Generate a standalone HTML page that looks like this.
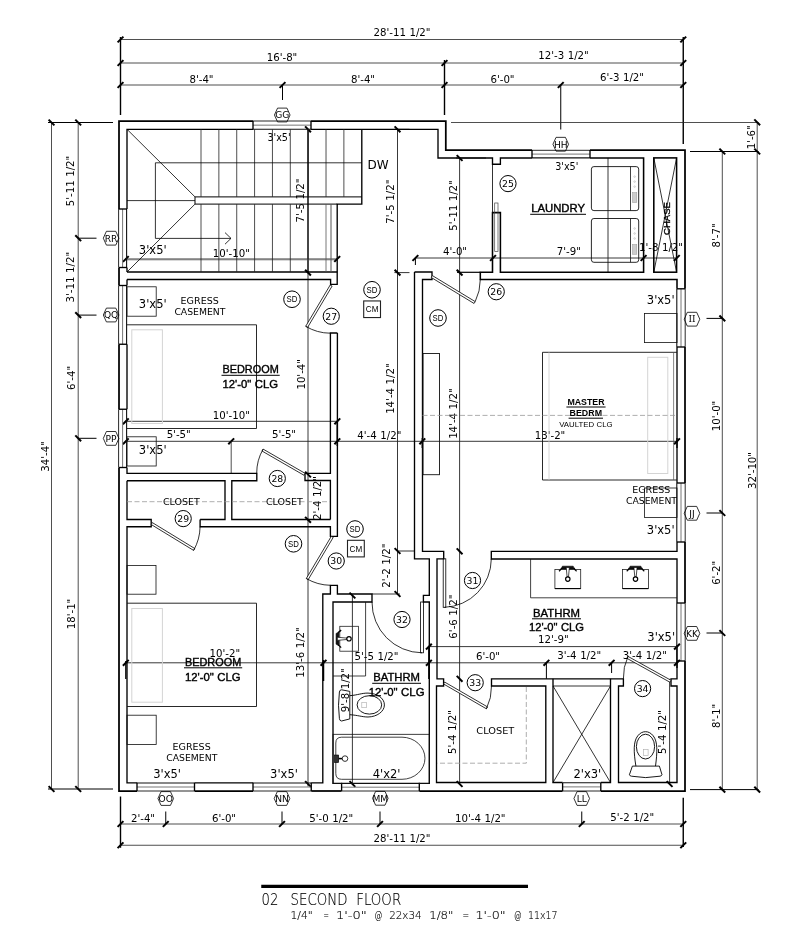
<!DOCTYPE html>
<html><head><meta charset="utf-8"><title>02 Second Floor</title>
<style>html,body{margin:0;padding:0;background:#fff}svg{display:block}text{white-space:pre;word-spacing:0.3px}svg{filter:grayscale(1)}</style></head>
<body><svg width="804" height="952" viewBox="0 0 804 952">
<rect width="804" height="952" fill="#fff"/>
<line x1="120.5" y1="39.5" x2="683.25" y2="39.5" stroke="#222" stroke-width="0.8" />
<line x1="120.5" y1="63" x2="683.25" y2="63" stroke="#222" stroke-width="0.8" />
<line x1="120.5" y1="85" x2="683.25" y2="85" stroke="#222" stroke-width="0.8" />
<line x1="117.6" y1="42.4" x2="123.4" y2="36.6" stroke="#000" stroke-width="2.0" />
<line x1="680.35" y1="42.4" x2="686.15" y2="36.6" stroke="#000" stroke-width="2.0" />
<line x1="117.6" y1="65.9" x2="123.4" y2="60.1" stroke="#000" stroke-width="2.0" />
<line x1="441.6" y1="65.9" x2="447.4" y2="60.1" stroke="#000" stroke-width="2.0" />
<line x1="680.35" y1="65.9" x2="686.15" y2="60.1" stroke="#000" stroke-width="2.0" />
<line x1="117.6" y1="87.9" x2="123.4" y2="82.1" stroke="#000" stroke-width="2.0" />
<line x1="279.6" y1="87.9" x2="285.4" y2="82.1" stroke="#000" stroke-width="2.0" />
<line x1="441.6" y1="87.9" x2="447.4" y2="82.1" stroke="#000" stroke-width="2.0" />
<line x1="557.85" y1="87.9" x2="563.65" y2="82.1" stroke="#000" stroke-width="2.0" />
<line x1="680.35" y1="87.9" x2="686.15" y2="82.1" stroke="#000" stroke-width="2.0" />
<line x1="120.5" y1="37" x2="120.5" y2="115" stroke="#000" stroke-width="1.4" />
<line x1="444.5" y1="60" x2="444.5" y2="115" stroke="#000" stroke-width="1.4" />
<line x1="683.25" y1="37" x2="683.25" y2="144" stroke="#000" stroke-width="1.4" />
<line x1="282.5" y1="85" x2="282.5" y2="100" stroke="#000" stroke-width="1.0" />
<line x1="560.75" y1="85" x2="560.75" y2="129.5" stroke="#000" stroke-width="1.0" />
<line x1="451" y1="122.5" x2="758.6" y2="122.5" stroke="#222" stroke-width="0.8" />
<text x="402" y="36" font-family="DejaVu Sans, Liberation Sans, sans-serif" font-size="10.2" text-anchor="middle" fill="#000" >28'-11 1/2&quot;</text>
<text x="282" y="60.75" font-family="DejaVu Sans, Liberation Sans, sans-serif" font-size="10.2" text-anchor="middle" fill="#000" >16'-8&quot;</text>
<text x="563.5" y="59" font-family="DejaVu Sans, Liberation Sans, sans-serif" font-size="10.2" text-anchor="middle" fill="#000" >12'-3 1/2&quot;</text>
<text x="201.5" y="82.5" font-family="DejaVu Sans, Liberation Sans, sans-serif" font-size="10.2" text-anchor="middle" fill="#000" >8'-4&quot;</text>
<text x="363" y="82.5" font-family="DejaVu Sans, Liberation Sans, sans-serif" font-size="10.2" text-anchor="middle" fill="#000" >8'-4&quot;</text>
<text x="502.5" y="82.5" font-family="DejaVu Sans, Liberation Sans, sans-serif" font-size="10.2" text-anchor="middle" fill="#000" >6'-0&quot;</text>
<text x="622" y="80.7" font-family="DejaVu Sans, Liberation Sans, sans-serif" font-size="10.2" text-anchor="middle" fill="#000" >6'-3 1/2&quot;</text>
<line x1="51.5" y1="122.5" x2="51.5" y2="789" stroke="#222" stroke-width="0.8" />
<line x1="78.2" y1="122.5" x2="78.2" y2="789" stroke="#222" stroke-width="0.8" />
<line x1="48" y1="122.5" x2="113" y2="122.5" stroke="#000" stroke-width="1.0" />
<line x1="48" y1="789" x2="113" y2="789" stroke="#000" stroke-width="1.0" />
<line x1="48.6" y1="119.6" x2="54.4" y2="125.4" stroke="#000" stroke-width="2.0" />
<line x1="48.6" y1="786.1" x2="54.4" y2="791.9" stroke="#000" stroke-width="2.0" />
<line x1="75.3" y1="119.6" x2="81.1" y2="125.4" stroke="#000" stroke-width="2.0" />
<line x1="75.3" y1="235.3" x2="81.1" y2="241.1" stroke="#000" stroke-width="2.0" />
<line x1="75.3" y1="312.2" x2="81.1" y2="318" stroke="#000" stroke-width="2.0" />
<line x1="75.3" y1="435.4" x2="81.1" y2="441.2" stroke="#000" stroke-width="2.0" />
<line x1="75.3" y1="786.1" x2="81.1" y2="791.9" stroke="#000" stroke-width="2.0" />
<line x1="78.2" y1="238.2" x2="96.5" y2="238.2" stroke="#000" stroke-width="1.0" />
<line x1="78.2" y1="315.1" x2="96.5" y2="315.1" stroke="#000" stroke-width="1.0" />
<line x1="78.2" y1="438.3" x2="96.5" y2="438.3" stroke="#000" stroke-width="1.0" />
<text transform="translate(48.5,456.5) rotate(-90)" font-family="DejaVu Sans, Liberation Sans, sans-serif" font-size="10.2" text-anchor="middle" fill="#000" >34'-4&quot;</text>
<text transform="translate(74.1,181) rotate(-90)" font-family="DejaVu Sans, Liberation Sans, sans-serif" font-size="10.2" text-anchor="middle" fill="#000" >5'-11 1/2&quot;</text>
<text transform="translate(74.1,277.2) rotate(-90)" font-family="DejaVu Sans, Liberation Sans, sans-serif" font-size="10.2" text-anchor="middle" fill="#000" >3'-11 1/2&quot;</text>
<text transform="translate(74.9,378) rotate(-90)" font-family="DejaVu Sans, Liberation Sans, sans-serif" font-size="10.2" text-anchor="middle" fill="#000" >6'-4&quot;</text>
<text transform="translate(75.2,614) rotate(-90)" font-family="DejaVu Sans, Liberation Sans, sans-serif" font-size="10.2" text-anchor="middle" fill="#000" >18'-1&quot;</text>
<line x1="722.3" y1="151.5" x2="722.3" y2="789.6" stroke="#222" stroke-width="0.8" />
<line x1="757.2" y1="122.3" x2="757.2" y2="789.6" stroke="#222" stroke-width="0.8" />
<line x1="690" y1="151.5" x2="758.6" y2="151.5" stroke="#000" stroke-width="1.0" />
<line x1="690" y1="789.6" x2="758.6" y2="789.6" stroke="#000" stroke-width="1.0" />
<line x1="719.4" y1="148.6" x2="725.2" y2="154.4" stroke="#000" stroke-width="2.0" />
<line x1="719.4" y1="315.5" x2="725.2" y2="321.3" stroke="#000" stroke-width="2.0" />
<line x1="719.4" y1="510.1" x2="725.2" y2="515.9" stroke="#000" stroke-width="2.0" />
<line x1="719.4" y1="630.1" x2="725.2" y2="635.9" stroke="#000" stroke-width="2.0" />
<line x1="719.4" y1="786.7" x2="725.2" y2="792.5" stroke="#000" stroke-width="2.0" />
<line x1="754.3" y1="119.4" x2="760.1" y2="125.2" stroke="#000" stroke-width="2.0" />
<line x1="754.3" y1="148.6" x2="760.1" y2="154.4" stroke="#000" stroke-width="2.0" />
<line x1="754.3" y1="786.7" x2="760.1" y2="792.5" stroke="#000" stroke-width="2.0" />
<line x1="706.5" y1="318.4" x2="722.3" y2="318.4" stroke="#000" stroke-width="1.0" />
<line x1="706.5" y1="513" x2="722.3" y2="513" stroke="#000" stroke-width="1.0" />
<line x1="706.5" y1="633" x2="722.3" y2="633" stroke="#000" stroke-width="1.0" />
<text transform="translate(755.2,137.3) rotate(-90)" font-family="DejaVu Sans, Liberation Sans, sans-serif" font-size="10.2" text-anchor="middle" fill="#000" >1'-6&quot;</text>
<text transform="translate(720,235.4) rotate(-90)" font-family="DejaVu Sans, Liberation Sans, sans-serif" font-size="10.2" text-anchor="middle" fill="#000" >8'-7&quot;</text>
<text transform="translate(719.6,416) rotate(-90)" font-family="DejaVu Sans, Liberation Sans, sans-serif" font-size="10.2" text-anchor="middle" fill="#000" >10'-0&quot;</text>
<text transform="translate(719.6,572.8) rotate(-90)" font-family="DejaVu Sans, Liberation Sans, sans-serif" font-size="10.2" text-anchor="middle" fill="#000" >6'-2&quot;</text>
<text transform="translate(719.6,716) rotate(-90)" font-family="DejaVu Sans, Liberation Sans, sans-serif" font-size="10.2" text-anchor="middle" fill="#000" >8'-1&quot;</text>
<text transform="translate(755.6,470.5) rotate(-90)" font-family="DejaVu Sans, Liberation Sans, sans-serif" font-size="10.2" text-anchor="middle" fill="#000" >32'-10&quot;</text>
<line x1="120.5" y1="824" x2="683.25" y2="824" stroke="#222" stroke-width="0.8" />
<line x1="120.5" y1="845.25" x2="683.25" y2="845.25" stroke="#222" stroke-width="0.8" />
<line x1="117.6" y1="826.9" x2="123.4" y2="821.1" stroke="#000" stroke-width="2.0" />
<line x1="162.85" y1="826.9" x2="168.65" y2="821.1" stroke="#000" stroke-width="2.0" />
<line x1="279.1" y1="826.9" x2="284.9" y2="821.1" stroke="#000" stroke-width="2.0" />
<line x1="377.1" y1="826.9" x2="382.9" y2="821.1" stroke="#000" stroke-width="2.0" />
<line x1="578.85" y1="826.9" x2="584.65" y2="821.1" stroke="#000" stroke-width="2.0" />
<line x1="680.35" y1="826.9" x2="686.15" y2="821.1" stroke="#000" stroke-width="2.0" />
<line x1="117.6" y1="848.15" x2="123.4" y2="842.35" stroke="#000" stroke-width="2.0" />
<line x1="680.35" y1="848.15" x2="686.15" y2="842.35" stroke="#000" stroke-width="2.0" />
<line x1="120.5" y1="796.5" x2="120.5" y2="847.75" stroke="#000" stroke-width="1.4" />
<line x1="683.25" y1="797.75" x2="683.25" y2="847" stroke="#000" stroke-width="1.4" />
<line x1="165.75" y1="811.5" x2="165.75" y2="824" stroke="#000" stroke-width="1.0" />
<line x1="282" y1="811.5" x2="282" y2="824" stroke="#000" stroke-width="1.0" />
<line x1="380" y1="811.5" x2="380" y2="824" stroke="#000" stroke-width="1.0" />
<line x1="581.75" y1="811.5" x2="581.75" y2="824" stroke="#000" stroke-width="1.0" />
<text x="143" y="821.5" font-family="DejaVu Sans, Liberation Sans, sans-serif" font-size="10.2" text-anchor="middle" fill="#000" >2'-4&quot;</text>
<text x="224" y="821.5" font-family="DejaVu Sans, Liberation Sans, sans-serif" font-size="10.2" text-anchor="middle" fill="#000" >6'-0&quot;</text>
<text x="331.25" y="821.5" font-family="DejaVu Sans, Liberation Sans, sans-serif" font-size="10.2" text-anchor="middle" fill="#000" >5'-0 1/2&quot;</text>
<text x="480.3" y="821.5" font-family="DejaVu Sans, Liberation Sans, sans-serif" font-size="10.2" text-anchor="middle" fill="#000" >10'-4 1/2&quot;</text>
<text x="632.25" y="821" font-family="DejaVu Sans, Liberation Sans, sans-serif" font-size="10.2" text-anchor="middle" fill="#000" >5'-2 1/2&quot;</text>
<text x="402" y="841.5" font-family="DejaVu Sans, Liberation Sans, sans-serif" font-size="10.2" text-anchor="middle" fill="#000" >28'-11 1/2&quot;</text>
<line x1="308" y1="129.3" x2="308" y2="786.5" stroke="#222" stroke-width="0.9" />
<line x1="308" y1="129.3" x2="308" y2="273" stroke="#000" stroke-width="1.1" />
<line x1="305.1" y1="126.4" x2="310.9" y2="132.2" stroke="#000" stroke-width="2.0" />
<line x1="305.1" y1="269.7" x2="310.9" y2="275.5" stroke="#000" stroke-width="2.0" />
<line x1="305.1" y1="471.6" x2="310.9" y2="477.4" stroke="#000" stroke-width="2.0" />
<line x1="305.1" y1="516.9" x2="310.9" y2="522.7" stroke="#000" stroke-width="2.0" />
<line x1="305.1" y1="781.1" x2="310.9" y2="786.9" stroke="#000" stroke-width="2.0" />
<line x1="397.5" y1="129.3" x2="397.5" y2="594" stroke="#222" stroke-width="0.9" />
<line x1="394.6" y1="126.4" x2="400.4" y2="132.2" stroke="#000" stroke-width="2.0" />
<line x1="394.6" y1="269.7" x2="400.4" y2="275.5" stroke="#000" stroke-width="2.0" />
<line x1="394.6" y1="548.1" x2="400.4" y2="553.9" stroke="#000" stroke-width="2.0" />
<line x1="394.6" y1="591.1" x2="400.4" y2="596.9" stroke="#000" stroke-width="2.0" />
<line x1="394.4" y1="129.3" x2="409.5" y2="129.3" stroke="#000" stroke-width="0.8" />
<line x1="394.4" y1="272.6" x2="409.5" y2="272.6" stroke="#000" stroke-width="0.8" />
<line x1="397.5" y1="551" x2="414.5" y2="551" stroke="#000" stroke-width="0.8" />
<line x1="372" y1="594" x2="400" y2="594" stroke="#000" stroke-width="0.8" />
<line x1="459.6" y1="158" x2="459.6" y2="784" stroke="#222" stroke-width="0.9" />
<line x1="456.7" y1="155.1" x2="462.5" y2="160.9" stroke="#000" stroke-width="2.0" />
<line x1="456.7" y1="269.7" x2="462.5" y2="275.5" stroke="#000" stroke-width="2.0" />
<line x1="456.7" y1="548.4" x2="462.5" y2="554.2" stroke="#000" stroke-width="2.0" />
<line x1="456.7" y1="675.9" x2="462.5" y2="681.7" stroke="#000" stroke-width="2.0" />
<line x1="456.7" y1="781.1" x2="462.5" y2="786.9" stroke="#000" stroke-width="2.0" />
<line x1="456" y1="158" x2="486" y2="158" stroke="#000" stroke-width="0.8" />
<line x1="352.4" y1="595.5" x2="352.4" y2="784.5" stroke="#222" stroke-width="0.9" />
<line x1="349.5" y1="592.6" x2="355.3" y2="598.4" stroke="#000" stroke-width="2.0" />
<line x1="349.5" y1="781.1" x2="355.3" y2="786.9" stroke="#000" stroke-width="2.0" />
<line x1="669.6" y1="678.8" x2="669.6" y2="784" stroke="#222" stroke-width="0.9" />
<line x1="666.7" y1="781.1" x2="672.5" y2="786.9" stroke="#000" stroke-width="2.0" />
<line x1="608" y1="157.9" x2="608" y2="272.2" stroke="#222" stroke-width="0.9" />
<line x1="125.5" y1="259" x2="337.2" y2="259" stroke="#222" stroke-width="0.9" />
<line x1="125.5" y1="259.9" x2="337.2" y2="259.9" stroke="#555" stroke-width="0.6" />
<line x1="122.9" y1="261.9" x2="128.7" y2="256.1" stroke="#000" stroke-width="2.0" />
<line x1="334.3" y1="261.9" x2="340.1" y2="256.1" stroke="#000" stroke-width="2.0" />
<line x1="415.4" y1="258" x2="677" y2="258" stroke="#222" stroke-width="0.9" />
<line x1="412.5" y1="260.9" x2="418.3" y2="255.1" stroke="#000" stroke-width="2.0" />
<line x1="490.1" y1="260.9" x2="495.9" y2="255.1" stroke="#000" stroke-width="2.0" />
<line x1="640.7" y1="260.9" x2="646.5" y2="255.1" stroke="#000" stroke-width="2.0" />
<line x1="673.9" y1="260.9" x2="679.7" y2="255.1" stroke="#000" stroke-width="2.0" />
<line x1="415.4" y1="258" x2="415.4" y2="265" stroke="#000" stroke-width="1.0" />
<line x1="125.5" y1="421.3" x2="337.3" y2="421.3" stroke="#222" stroke-width="0.9" />
<line x1="122.9" y1="424.2" x2="128.7" y2="418.4" stroke="#000" stroke-width="2.0" />
<line x1="334.4" y1="424.2" x2="340.2" y2="418.4" stroke="#000" stroke-width="2.0" />
<line x1="125.5" y1="441.3" x2="677" y2="441.3" stroke="#222" stroke-width="0.9" />
<line x1="122.9" y1="444.2" x2="128.7" y2="438.4" stroke="#000" stroke-width="2.0" />
<line x1="228.3" y1="444.2" x2="234.1" y2="438.4" stroke="#000" stroke-width="2.0" />
<line x1="334.4" y1="444.2" x2="340.2" y2="438.4" stroke="#000" stroke-width="2.0" />
<line x1="419.4" y1="444.2" x2="425.2" y2="438.4" stroke="#000" stroke-width="2.0" />
<line x1="674.1" y1="444.2" x2="679.9" y2="438.4" stroke="#000" stroke-width="2.0" />
<line x1="231.2" y1="441.2" x2="231.2" y2="473.3" stroke="#222" stroke-width="0.8" />
<line x1="337.3" y1="421" x2="337.3" y2="446" stroke="#000" stroke-width="1.5" />
<line x1="422.3" y1="438" x2="422.3" y2="448" stroke="#000" stroke-width="1.4" />
<line x1="677" y1="438" x2="677" y2="448" stroke="#000" stroke-width="1.4" />
<line x1="428.9" y1="646.6" x2="677" y2="646.6" stroke="#222" stroke-width="0.9" />
<line x1="426" y1="649.5" x2="431.8" y2="643.7" stroke="#000" stroke-width="2.0" />
<line x1="674.1" y1="649.5" x2="679.9" y2="643.7" stroke="#000" stroke-width="2.0" />
<line x1="125.5" y1="662.8" x2="677" y2="662.8" stroke="#222" stroke-width="0.9" />
<line x1="122.9" y1="665.7" x2="128.7" y2="659.9" stroke="#000" stroke-width="2.0" />
<line x1="320.6" y1="665.7" x2="326.4" y2="659.9" stroke="#000" stroke-width="2.0" />
<line x1="426" y1="665.7" x2="431.8" y2="659.9" stroke="#000" stroke-width="2.0" />
<line x1="543.5" y1="665.7" x2="549.3" y2="659.9" stroke="#000" stroke-width="2.0" />
<line x1="608.7" y1="665.7" x2="614.5" y2="659.9" stroke="#000" stroke-width="2.0" />
<line x1="674.1" y1="665.7" x2="679.9" y2="659.9" stroke="#000" stroke-width="2.0" />
<line x1="323.5" y1="660" x2="323.5" y2="681" stroke="#000" stroke-width="1.5" />
<line x1="428.9" y1="646" x2="428.9" y2="679" stroke="#000" stroke-width="1.5" />
<line x1="546.4" y1="662.8" x2="546.4" y2="678.8" stroke="#000" stroke-width="1.0" />
<line x1="611.6" y1="662.8" x2="611.6" y2="673" stroke="#000" stroke-width="1.0" />
<line x1="677" y1="645" x2="677" y2="668" stroke="#000" stroke-width="1.4" />
<line x1="125.8" y1="661" x2="125.8" y2="679" stroke="#000" stroke-width="1.3" />
<text transform="translate(304.2,200.5) rotate(-90)" font-family="DejaVu Sans, Liberation Sans, sans-serif" font-size="10.2" text-anchor="middle" fill="#000" >7'-5 1/2&quot;</text>
<text transform="translate(394.2,201.7) rotate(-90)" font-family="DejaVu Sans, Liberation Sans, sans-serif" font-size="10.2" text-anchor="middle" fill="#000" >7'-5 1/2&quot;</text>
<text transform="translate(456.5,205.5) rotate(-90)" font-family="DejaVu Sans, Liberation Sans, sans-serif" font-size="10.2" text-anchor="middle" fill="#000" >5'-11 1/2&quot;</text>
<text x="231.3" y="256.9" font-family="DejaVu Sans, Liberation Sans, sans-serif" font-size="10.2" text-anchor="middle" fill="#000" >10'-10&quot;</text>
<text x="455" y="255.3" font-family="DejaVu Sans, Liberation Sans, sans-serif" font-size="10.2" text-anchor="middle" fill="#000" >4'-0&quot;</text>
<text x="568.8" y="255.3" font-family="DejaVu Sans, Liberation Sans, sans-serif" font-size="10.2" text-anchor="middle" fill="#000" >7'-9&quot;</text>
<text x="661" y="250.7" font-family="DejaVu Sans, Liberation Sans, sans-serif" font-size="10.2" text-anchor="middle" fill="#000" >1'-8 1/2&quot;</text>
<text transform="translate(305,374.3) rotate(-90)" font-family="DejaVu Sans, Liberation Sans, sans-serif" font-size="10.2" text-anchor="middle" fill="#000" >10'-4&quot;</text>
<text x="231.3" y="419.3" font-family="DejaVu Sans, Liberation Sans, sans-serif" font-size="10.2" text-anchor="middle" fill="#000" >10'-10&quot;</text>
<text transform="translate(394.2,388.6) rotate(-90)" font-family="DejaVu Sans, Liberation Sans, sans-serif" font-size="10.2" text-anchor="middle" fill="#000" >14'-4 1/2&quot;</text>
<text transform="translate(456.5,413.6) rotate(-90)" font-family="DejaVu Sans, Liberation Sans, sans-serif" font-size="10.2" text-anchor="middle" fill="#000" >14'-4 1/2&quot;</text>
<text x="178.7" y="438.3" font-family="DejaVu Sans, Liberation Sans, sans-serif" font-size="10.2" text-anchor="middle" fill="#000" >5'-5&quot;</text>
<text x="284" y="438.3" font-family="DejaVu Sans, Liberation Sans, sans-serif" font-size="10.2" text-anchor="middle" fill="#000" >5'-5&quot;</text>
<text x="379.3" y="438.5" font-family="DejaVu Sans, Liberation Sans, sans-serif" font-size="10.2" text-anchor="middle" fill="#000" >4'-4 1/2&quot;</text>
<text x="550" y="438.5" font-family="DejaVu Sans, Liberation Sans, sans-serif" font-size="10.2" text-anchor="middle" fill="#000" >13'-2&quot;</text>
<text transform="translate(321.2,498) rotate(-90)" font-family="DejaVu Sans, Liberation Sans, sans-serif" font-size="10.2" text-anchor="middle" fill="#000" >2'-4 1/2&quot;</text>
<text transform="translate(390,565.6) rotate(-90)" font-family="DejaVu Sans, Liberation Sans, sans-serif" font-size="10.2" text-anchor="middle" fill="#000" >2'-2 1/2&quot;</text>
<text transform="translate(456.5,616.6) rotate(-90)" font-family="DejaVu Sans, Liberation Sans, sans-serif" font-size="10.2" text-anchor="middle" fill="#000" >6'-6 1/2&quot;</text>
<text transform="translate(304,652.5) rotate(-90)" font-family="DejaVu Sans, Liberation Sans, sans-serif" font-size="10.2" text-anchor="middle" fill="#000" >13'-6 1/2&quot;</text>
<text x="224.8" y="656.5" font-family="DejaVu Sans, Liberation Sans, sans-serif" font-size="10.2" text-anchor="middle" fill="#000" >10'-2&quot;</text>
<text x="376.5" y="659.6" font-family="DejaVu Sans, Liberation Sans, sans-serif" font-size="10.2" text-anchor="middle" fill="#000" >5'-5 1/2&quot;</text>
<text x="488" y="659.6" font-family="DejaVu Sans, Liberation Sans, sans-serif" font-size="10.2" text-anchor="middle" fill="#000" >6'-0&quot;</text>
<text x="579.2" y="659.4" font-family="DejaVu Sans, Liberation Sans, sans-serif" font-size="10.2" text-anchor="middle" fill="#000" >3'-4 1/2&quot;</text>
<text x="644.8" y="659.4" font-family="DejaVu Sans, Liberation Sans, sans-serif" font-size="10.2" text-anchor="middle" fill="#000" >3'-4 1/2&quot;</text>
<text x="553.4" y="643.1" font-family="DejaVu Sans, Liberation Sans, sans-serif" font-size="10.2" text-anchor="middle" fill="#000" >12'-9&quot;</text>
<text transform="translate(348.7,690.3) rotate(-90)" font-family="DejaVu Sans, Liberation Sans, sans-serif" font-size="10.2" text-anchor="middle" fill="#000" >9'-8 1/2&quot;</text>
<text transform="translate(456.2,732) rotate(-90)" font-family="DejaVu Sans, Liberation Sans, sans-serif" font-size="10.2" text-anchor="middle" fill="#000" >5'-4 1/2&quot;</text>
<text transform="translate(666,732) rotate(-90)" font-family="DejaVu Sans, Liberation Sans, sans-serif" font-size="10.2" text-anchor="middle" fill="#000" >5'-4 1/2&quot;</text>
<line x1="253" y1="121" x2="311" y2="121" stroke="#111" stroke-width="0.9" />
<line x1="253" y1="125.15" x2="311" y2="125.15" stroke="#777" stroke-width="1.0" />
<line x1="253" y1="129.3" x2="311" y2="129.3" stroke="#111" stroke-width="1.1" />
<line x1="532" y1="150.3" x2="590" y2="150.3" stroke="#111" stroke-width="0.9" />
<line x1="532" y1="154.1" x2="590" y2="154.1" stroke="#777" stroke-width="1.0" />
<line x1="532" y1="157.9" x2="590" y2="157.9" stroke="#111" stroke-width="1.1" />
<line x1="118.6" y1="209" x2="118.6" y2="267.5" stroke="#111" stroke-width="0.9" />
<line x1="122.6" y1="209" x2="122.6" y2="267.5" stroke="#777" stroke-width="1.0" />
<line x1="126.6" y1="209" x2="126.6" y2="267.5" stroke="#111" stroke-width="1.1" />
<line x1="118.6" y1="285.5" x2="118.6" y2="344.25" stroke="#111" stroke-width="0.9" />
<line x1="122.6" y1="285.5" x2="122.6" y2="344.25" stroke="#777" stroke-width="1.0" />
<line x1="126.6" y1="285.5" x2="126.6" y2="344.25" stroke="#111" stroke-width="1.1" />
<line x1="118.6" y1="409.25" x2="118.6" y2="467.5" stroke="#111" stroke-width="0.9" />
<line x1="122.6" y1="409.25" x2="122.6" y2="467.5" stroke="#777" stroke-width="1.0" />
<line x1="126.6" y1="409.25" x2="126.6" y2="467.5" stroke="#111" stroke-width="1.1" />
<line x1="685.2" y1="288.8" x2="685.2" y2="347" stroke="#111" stroke-width="0.9" />
<line x1="681" y1="288.8" x2="681" y2="347" stroke="#777" stroke-width="1.0" />
<line x1="676.8" y1="288.8" x2="676.8" y2="347" stroke="#111" stroke-width="1.1" />
<line x1="685.2" y1="483" x2="685.2" y2="542" stroke="#111" stroke-width="0.9" />
<line x1="681" y1="483" x2="681" y2="542" stroke="#777" stroke-width="1.0" />
<line x1="676.8" y1="483" x2="676.8" y2="542" stroke="#111" stroke-width="1.1" />
<line x1="685.2" y1="603" x2="685.2" y2="661" stroke="#111" stroke-width="0.9" />
<line x1="681" y1="603" x2="681" y2="661" stroke="#777" stroke-width="1.0" />
<line x1="676.8" y1="603" x2="676.8" y2="661" stroke="#111" stroke-width="1.1" />
<line x1="137" y1="791" x2="194.5" y2="791" stroke="#111" stroke-width="0.9" />
<line x1="137" y1="787" x2="194.5" y2="787" stroke="#777" stroke-width="1.0" />
<line x1="137" y1="783" x2="194.5" y2="783" stroke="#111" stroke-width="1.1" />
<line x1="253" y1="791" x2="311.25" y2="791" stroke="#111" stroke-width="0.9" />
<line x1="253" y1="787" x2="311.25" y2="787" stroke="#777" stroke-width="1.0" />
<line x1="253" y1="783" x2="311.25" y2="783" stroke="#111" stroke-width="1.1" />
<line x1="341.6" y1="791" x2="419.3" y2="791" stroke="#111" stroke-width="0.9" />
<line x1="341.6" y1="787.2" x2="419.3" y2="787.2" stroke="#777" stroke-width="1.0" />
<line x1="341.6" y1="783.4" x2="419.3" y2="783.4" stroke="#111" stroke-width="1.1" />
<line x1="562.6" y1="791" x2="600.8" y2="791" stroke="#111" stroke-width="0.9" />
<line x1="562.6" y1="786.9" x2="600.8" y2="786.9" stroke="#777" stroke-width="1.0" />
<line x1="562.6" y1="782.8" x2="600.8" y2="782.8" stroke="#111" stroke-width="1.1" />
<polyline points="119,209 119,121 253,121" fill="none" stroke="#000" stroke-width="1.75" stroke-linejoin="miter" />
<polyline points="311,121 445.8,121 445.8,150 532,150" fill="none" stroke="#000" stroke-width="1.75" stroke-linejoin="miter" />
<polyline points="590,150 685,150 685,288.8" fill="none" stroke="#000" stroke-width="1.75" stroke-linejoin="miter" />
<polyline points="685,347 685,483" fill="none" stroke="#000" stroke-width="1.75" stroke-linejoin="miter" />
<polyline points="685,542 685,603" fill="none" stroke="#000" stroke-width="1.75" stroke-linejoin="miter" />
<polyline points="685,661 685,791 600.8,791" fill="none" stroke="#000" stroke-width="1.75" stroke-linejoin="miter" />
<polyline points="562.6,791 419.3,791" fill="none" stroke="#000" stroke-width="1.75" stroke-linejoin="miter" />
<polyline points="341.6,791 311.25,791" fill="none" stroke="#000" stroke-width="1.75" stroke-linejoin="miter" />
<polyline points="253,791 194.5,791" fill="none" stroke="#000" stroke-width="1.75" stroke-linejoin="miter" />
<polyline points="137,791 119,791 119,467.5" fill="none" stroke="#000" stroke-width="1.75" stroke-linejoin="miter" />
<polyline points="119,409.25 119,344.25" fill="none" stroke="#000" stroke-width="1.75" stroke-linejoin="miter" />
<polyline points="119,285.5 119,267.5" fill="none" stroke="#000" stroke-width="1.75" stroke-linejoin="miter" />
<line x1="253" y1="121" x2="253" y2="129.3" stroke="#000" stroke-width="1.35" />
<line x1="311" y1="121" x2="311" y2="129.3" stroke="#000" stroke-width="1.35" />
<line x1="532" y1="150" x2="532" y2="157.9" stroke="#000" stroke-width="1.35" />
<line x1="590" y1="150" x2="590" y2="157.9" stroke="#000" stroke-width="1.35" />
<line x1="119" y1="209" x2="127" y2="209" stroke="#000" stroke-width="1.35" />
<line x1="119" y1="267.5" x2="127" y2="267.5" stroke="#000" stroke-width="1.35" />
<line x1="119" y1="285.5" x2="127" y2="285.5" stroke="#000" stroke-width="1.35" />
<line x1="119" y1="344.25" x2="127" y2="344.25" stroke="#000" stroke-width="1.35" />
<line x1="119" y1="409.25" x2="127" y2="409.25" stroke="#000" stroke-width="1.35" />
<line x1="119" y1="467.5" x2="127" y2="467.5" stroke="#000" stroke-width="1.35" />
<line x1="677" y1="288.8" x2="685" y2="288.8" stroke="#000" stroke-width="1.35" />
<line x1="677" y1="347" x2="685" y2="347" stroke="#000" stroke-width="1.35" />
<line x1="677" y1="483" x2="685" y2="483" stroke="#000" stroke-width="1.35" />
<line x1="677" y1="542" x2="685" y2="542" stroke="#000" stroke-width="1.35" />
<line x1="677" y1="603" x2="685" y2="603" stroke="#000" stroke-width="1.35" />
<line x1="677" y1="661" x2="685" y2="661" stroke="#000" stroke-width="1.35" />
<line x1="137" y1="782.8" x2="137" y2="791" stroke="#000" stroke-width="1.35" />
<line x1="194.5" y1="782.8" x2="194.5" y2="791" stroke="#000" stroke-width="1.35" />
<line x1="253" y1="782.8" x2="253" y2="791" stroke="#000" stroke-width="1.35" />
<line x1="311.25" y1="782.8" x2="311.25" y2="791" stroke="#000" stroke-width="1.35" />
<line x1="341.6" y1="782.8" x2="341.6" y2="791" stroke="#000" stroke-width="1.35" />
<line x1="419.3" y1="782.8" x2="419.3" y2="791" stroke="#000" stroke-width="1.35" />
<line x1="562.6" y1="782.8" x2="562.6" y2="791" stroke="#000" stroke-width="1.35" />
<line x1="600.8" y1="782.8" x2="600.8" y2="791" stroke="#000" stroke-width="1.35" />
<polyline points="253,129.3 127,129.3 127,209" fill="none" stroke="#000" stroke-width="1.35" stroke-linejoin="miter" />
<polyline points="311,129.3 438,129.3 438,158 492.5,158 492.5,164.2 500.4,164.2 500.4,158 532,158" fill="none" stroke="#000" stroke-width="1.35" stroke-linejoin="miter" />
<polyline points="590,157.9 643.6,157.9 643.6,272.2 500.4,272.2 500.4,212.6 492.5,212.6 492.5,272.2 480.3,272.2 480.3,279.5 677,279.5 677,288.8" fill="none" stroke="#000" stroke-width="1.55" stroke-linejoin="miter" />
<line x1="492.5" y1="164.2" x2="492.5" y2="212.6" stroke="#000" stroke-width="0.8" />
<rect x="653.8" y="157.9" width="22.8" height="114.3" rx="0" fill="none" stroke="#000" stroke-width="1.55"/>
<line x1="653.8" y1="157.9" x2="676.6" y2="272.2" stroke="#000" stroke-width="0.8" />
<line x1="676.6" y1="157.9" x2="653.8" y2="272.2" stroke="#000" stroke-width="0.8" />
<rect x="494.7" y="203" width="3.3" height="48.6" rx="0" fill="none" stroke="#444" stroke-width="0.7"/>
<line x1="127" y1="267.5" x2="127" y2="272" stroke="#000" stroke-width="1.35" />
<line x1="127" y1="279.5" x2="127" y2="285.5" stroke="#000" stroke-width="1.35" />
<line x1="127" y1="344.25" x2="127" y2="409.25" stroke="#000" stroke-width="1.35" />
<polyline points="195,204.1 195,196.9 361.8,196.9" fill="none" stroke="#000" stroke-width="1.0" stroke-linejoin="miter" />
<line x1="195" y1="204.1" x2="337.2" y2="204.1" stroke="#000" stroke-width="1.0" />
<polyline points="361.8,129.3 361.8,204.1 337.2,204.1 337.2,284.3 330.6,284.3 330.6,279.5 127,279.5" fill="none" stroke="#000" stroke-width="1.35" stroke-linejoin="miter" />
<line x1="127" y1="272" x2="337.2" y2="272" stroke="#000" stroke-width="1.35" />
<line x1="326" y1="204.1" x2="326" y2="272" stroke="#555" stroke-width="0.8" />
<line x1="331" y1="204.1" x2="331" y2="272" stroke="#555" stroke-width="1.0" />
<polyline points="337.4,333 330.4,333 330.4,473.3 305,473.3 305,480.5 330.4,480.5 330.4,519.5" fill="none" stroke="#000" stroke-width="1.35" stroke-linejoin="miter" />
<polyline points="337.4,333 337.4,536.3 330.4,536.3 330.4,526.7 200.1,526.7 200.1,519.5" fill="none" stroke="#000" stroke-width="1.35" stroke-linejoin="miter" />
<polyline points="127,467.5 127,473.3 256.8,473.3 256.8,480.7 231.8,480.7 231.8,519.5 330.4,519.5" fill="none" stroke="#000" stroke-width="1.35" stroke-linejoin="miter" />
<polyline points="127,480.7 225,480.7 225,519.5 200.1,519.5" fill="none" stroke="#000" stroke-width="1.35" stroke-linejoin="miter" />
<polyline points="127,480.7 127,519.5 151.2,519.5 151.2,526.7 127,526.7 127,782.8 137,782.8" fill="none" stroke="#000" stroke-width="1.35" stroke-linejoin="miter" />
<line x1="194.5" y1="782.8" x2="253" y2="782.8" stroke="#000" stroke-width="1.35" />
<polyline points="311.25,782.8 322.8,782.8 322.8,594 330.4,594 330.4,585.3 337.4,585.3 337.4,594 372,594 372,602 333,602 333,783.4 341.6,783.4" fill="none" stroke="#000" stroke-width="1.35" stroke-linejoin="miter" />
<polyline points="414.5,272 432,272 432,279.5 422.5,279.5 422.5,551.3 443.7,551.3 443.7,558.8 437,558.8 437,678.8 443.6,678.8 443.6,686 436.5,686 436.5,782.5 545.8,782.5 545.8,686 491.5,686 491.5,678.8 623.4,678.8 623.4,686 618.5,686 618.5,782.5 677,782.5 677,686 671,686 671,678.8 677,678.8 677,661" fill="none" stroke="#000" stroke-width="1.35" stroke-linejoin="miter" />
<polyline points="414.5,272 414.5,558.8 429.3,558.8 429.3,595.3 423.4,595.3 423.4,602 429.3,602 429.3,783.4 419.3,783.4" fill="none" stroke="#000" stroke-width="1.35" stroke-linejoin="miter" />
<polyline points="562.6,782.5 553,782.5 553,678.8" fill="none" stroke="#000" stroke-width="1.35" stroke-linejoin="miter" />
<polyline points="600.8,782.5 610.5,782.5 610.5,678.8" fill="none" stroke="#000" stroke-width="1.35" stroke-linejoin="miter" />
<line x1="553" y1="686" x2="610.5" y2="686" stroke="#000" stroke-width="0.8" />
<line x1="553" y1="686" x2="610.5" y2="782.5" stroke="#000" stroke-width="0.8" />
<line x1="610.5" y1="686" x2="553" y2="782.5" stroke="#000" stroke-width="0.8" />
<polyline points="677,542 677,551.3 491.3,551.3 491.3,559 677,559 677,603" fill="none" stroke="#000" stroke-width="1.35" stroke-linejoin="miter" />
<line x1="677" y1="347" x2="677" y2="483" stroke="#000" stroke-width="1.35" />
<line x1="201" y1="129.3" x2="201" y2="196.9" stroke="#222" stroke-width="0.8" />
<line x1="201" y1="204.1" x2="201" y2="272" stroke="#222" stroke-width="0.8" />
<line x1="218.86" y1="129.3" x2="218.86" y2="196.9" stroke="#222" stroke-width="0.8" />
<line x1="218.86" y1="204.1" x2="218.86" y2="272" stroke="#222" stroke-width="0.8" />
<line x1="236.72" y1="129.3" x2="236.72" y2="196.9" stroke="#222" stroke-width="0.8" />
<line x1="236.72" y1="204.1" x2="236.72" y2="272" stroke="#222" stroke-width="0.8" />
<line x1="254.58" y1="129.3" x2="254.58" y2="196.9" stroke="#222" stroke-width="0.8" />
<line x1="254.58" y1="204.1" x2="254.58" y2="272" stroke="#222" stroke-width="0.8" />
<line x1="272.44" y1="129.3" x2="272.44" y2="196.9" stroke="#222" stroke-width="0.8" />
<line x1="272.44" y1="204.1" x2="272.44" y2="272" stroke="#222" stroke-width="0.8" />
<line x1="290.3" y1="129.3" x2="290.3" y2="196.9" stroke="#222" stroke-width="0.8" />
<line x1="290.3" y1="204.1" x2="290.3" y2="272" stroke="#222" stroke-width="0.8" />
<line x1="308.16" y1="129.3" x2="308.16" y2="196.9" stroke="#222" stroke-width="0.8" />
<line x1="326.02" y1="129.3" x2="326.02" y2="196.9" stroke="#222" stroke-width="0.8" />
<line x1="343.88" y1="129.3" x2="343.88" y2="196.9" stroke="#222" stroke-width="0.8" />
<line x1="127" y1="129.3" x2="195" y2="196.9" stroke="#000" stroke-width="0.8" />
<line x1="195" y1="204.1" x2="127" y2="272" stroke="#000" stroke-width="0.8" />
<line x1="127" y1="200.6" x2="195" y2="200.6" stroke="#000" stroke-width="0.8" />
<line x1="155.4" y1="162.8" x2="361.8" y2="162.8" stroke="#000" stroke-width="0.8" />
<polyline points="155.4,162.8 155.4,238.4 231,238.4" fill="none" stroke="#000" stroke-width="0.8" stroke-linejoin="miter" />
<polyline points="225,232.6 231,238.4 225,244.2" fill="none" stroke="#000" stroke-width="0.8" stroke-linejoin="miter" />
<polygon points="330.2,285 305.7,326.3 307.59,327.42 332.09,286.12" fill="#fff" stroke="#000" stroke-width="0.8" stroke-linejoin="miter" />
<path d="M305.7,326.3 A48.02,48.02 0 0 0 330.2,333.2" fill="none" stroke="#000" stroke-width="0.8" />
<polygon points="432.4,275.6 475.2,301.6 474.06,303.48 431.26,277.48" fill="#fff" stroke="#000" stroke-width="0.8" stroke-linejoin="miter" />
<path d="M475.2,301.6 A50.08,50.08 0 0 0 480.3,279.5" fill="none" stroke="#000" stroke-width="0.8" />
<line x1="457" y1="272.3" x2="480.3" y2="272.3" stroke="#000" stroke-width="1.2" />
<polygon points="305,473.3 263.1,449.1 262,451.01 303.9,475.21" fill="#fff" stroke="#000" stroke-width="0.8" stroke-linejoin="miter" />
<path d="M263.1,449.1 A48.39,48.39 0 0 0 256.7,473.3" fill="none" stroke="#000" stroke-width="0.8" />
<polygon points="151.2,524.5 193.6,550.4 194.75,548.52 152.35,522.62" fill="#fff" stroke="#000" stroke-width="0.8" stroke-linejoin="miter" />
<path d="M193.6,550.4 A49.68,49.68 0 0 0 200.1,526.7" fill="none" stroke="#000" stroke-width="0.8" />
<polygon points="331.3,536.3 306.3,578.5 308.19,579.62 333.19,537.42" fill="#fff" stroke="#000" stroke-width="0.8" stroke-linejoin="miter" />
<path d="M306.3,578.5 A49.05,49.05 0 0 0 330.4,585.3" fill="none" stroke="#000" stroke-width="0.8" />
<polygon points="443.6,684 486.4,708.8 487.5,706.9 444.7,682.1" fill="#fff" stroke="#000" stroke-width="0.8" stroke-linejoin="miter" />
<path d="M486.4,708.8 A49.47,49.47 0 0 0 491.5,686" fill="none" stroke="#000" stroke-width="0.8" />
<polygon points="671,680.3 628,656.4 626.93,658.32 669.93,682.22" fill="#fff" stroke="#000" stroke-width="0.8" stroke-linejoin="miter" />
<path d="M628,656.4 A49.2,49.2 0 0 0 623.4,678.8" fill="none" stroke="#000" stroke-width="0.8" />
<rect x="443.2" y="558.8" width="2.6" height="48.5" rx="0" fill="none" stroke="#000" stroke-width="0.8"/>
<path d="M444.5,607.3 A48.5,48.5 0 0 0 491.3,559" fill="none" stroke="#000" stroke-width="0.8" />
<rect x="420.6" y="602" width="2.8" height="50.8" rx="0" fill="none" stroke="#000" stroke-width="0.8"/>
<path d="M422,652.8 A50.5,50.5 0 0 1 372,602" fill="none" stroke="#000" stroke-width="0.8" />
<rect x="127" y="286.8" width="29.2" height="29.4" rx="0" fill="none" stroke="#111" stroke-width="0.8"/>
<rect x="127" y="436.8" width="29.2" height="29.2" rx="0" fill="none" stroke="#111" stroke-width="0.8"/>
<rect x="127" y="565.6" width="29" height="28.6" rx="0" fill="none" stroke="#111" stroke-width="0.8"/>
<rect x="127" y="715.2" width="29.2" height="29.3" rx="0" fill="none" stroke="#111" stroke-width="0.8"/>
<rect x="644.4" y="313.4" width="32.6" height="29.2" rx="0" fill="none" stroke="#111" stroke-width="0.8"/>
<rect x="644.4" y="488" width="32.6" height="29.4" rx="0" fill="none" stroke="#111" stroke-width="0.8"/>
<polyline points="127,324.8 256.5,324.8 256.5,428.5 127,428.5" fill="none" stroke="#111" stroke-width="0.9" stroke-linejoin="miter" />
<rect x="131.8" y="329.8" width="30.6" height="93.7" rx="0" fill="none" stroke="#d4d4d4" stroke-width="1.0"/>
<polyline points="127,603.2 256.5,603.2 256.5,706.5 127,706.5" fill="none" stroke="#111" stroke-width="0.9" stroke-linejoin="miter" />
<rect x="131.8" y="608.5" width="30.6" height="93.7" rx="0" fill="none" stroke="#d4d4d4" stroke-width="1.0"/>
<polyline points="677,352.3 542.5,352.3 542.5,480 677,480" fill="none" stroke="#111" stroke-width="0.9" stroke-linejoin="miter" />
<rect x="647.7" y="357.3" width="20.1" height="116.2" rx="0" fill="none" stroke="#d4d4d4" stroke-width="1.0"/>
<line x1="549" y1="352.3" x2="549" y2="480" stroke="#ccc" stroke-width="0.8" />
<line x1="673.6" y1="352.3" x2="673.6" y2="480" stroke="#555" stroke-width="0.7" />
<rect x="423" y="353.5" width="16.5" height="121.2" rx="0" fill="none" stroke="#111" stroke-width="0.9"/>
<line x1="422.5" y1="415.4" x2="677" y2="415.4" stroke="#999" stroke-width="0.8" stroke-dasharray="5 2.5"/>
<line x1="127" y1="501.7" x2="330" y2="501.7" stroke="#999" stroke-width="0.8" stroke-dasharray="5 2.5"/>
<polyline points="526.3,687 526.3,763.2 437,763.2" fill="none" stroke="#999" stroke-width="0.8" stroke-linejoin="miter" stroke-dasharray="5 2.5"/>
<rect x="591.4" y="166.6" width="47.3" height="44" rx="2.5" fill="none" stroke="#111" stroke-width="0.9"/>
<line x1="630.5" y1="166.6" x2="630.5" y2="210.6" stroke="#111" stroke-width="0.8" />
<rect x="632.5" y="192.6" width="4.3" height="10" rx="0" fill="#ccc" stroke="#999" stroke-width="0.5"/>
<circle cx="634.6" cy="176.6" r="0.8" fill="none" stroke="#999" stroke-width="0.4"/>
<circle cx="634.6" cy="181.6" r="0.8" fill="none" stroke="#999" stroke-width="0.4"/>
<circle cx="634.6" cy="186.6" r="0.8" fill="none" stroke="#999" stroke-width="0.4"/>
<rect x="591.4" y="218.5" width="47.3" height="43.8" rx="2.5" fill="none" stroke="#111" stroke-width="0.9"/>
<line x1="630.5" y1="218.5" x2="630.5" y2="262.3" stroke="#111" stroke-width="0.8" />
<rect x="632.5" y="244.5" width="4.3" height="9.8" rx="0" fill="#ccc" stroke="#999" stroke-width="0.5"/>
<circle cx="634.6" cy="228.5" r="0.8" fill="none" stroke="#999" stroke-width="0.4"/>
<circle cx="634.6" cy="233.5" r="0.8" fill="none" stroke="#999" stroke-width="0.4"/>
<circle cx="634.6" cy="238.5" r="0.8" fill="none" stroke="#999" stroke-width="0.4"/>
<polyline points="333,676 365.6,676 365.6,602" fill="none" stroke="#111" stroke-width="0.8" stroke-linejoin="miter" />
<rect x="339.8" y="626.3" width="18.8" height="24.9" rx="0" fill="none" stroke="#222" stroke-width="0.8"/>
<g transform="translate(336.1,638.8) rotate(-90)"><polygon points="-5.4,0 5.4,0 6.4,2.8 -6.4,2.8" fill="#111" stroke="#000" stroke-width="0.6"/><path d="M-6,1.6 Q-7.4,4 -8.8,5 M6,1.6 Q7.4,4 8.8,5" fill="none" stroke="#000" stroke-width="1.3"/><polygon points="-1.6,1.2 1.6,1.2 0.7,10.6 -0.7,10.6" fill="#fff" stroke="#000" stroke-width="0.7"/><circle cx="0" cy="12.9" r="2.2" fill="#fff" stroke="#000" stroke-width="1.2"/></g>
<polyline points="530.6,559 530.6,597.8 677,597.8" fill="none" stroke="#111" stroke-width="0.8" stroke-linejoin="miter" />
<rect x="554.9" y="569.6" width="25.8" height="19" rx="0" fill="none" stroke="#222" stroke-width="0.8"/>
<line x1="554.9" y1="588.6" x2="580.7" y2="588.6" stroke="#000" stroke-width="1.1" />
<g transform="translate(567.8,566.2) rotate(0)"><polygon points="-5.4,0 5.4,0 6.4,2.8 -6.4,2.8" fill="#111" stroke="#000" stroke-width="0.6"/><path d="M-6,1.6 Q-7.4,4 -8.8,5 M6,1.6 Q7.4,4 8.8,5" fill="none" stroke="#000" stroke-width="1.3"/><polygon points="-1.6,1.2 1.6,1.2 0.7,10.6 -0.7,10.6" fill="#fff" stroke="#000" stroke-width="0.7"/><circle cx="0" cy="12.9" r="2.2" fill="#fff" stroke="#000" stroke-width="1.2"/></g>
<rect x="622.6" y="569.6" width="25.8" height="19" rx="0" fill="none" stroke="#222" stroke-width="0.8"/>
<line x1="622.6" y1="588.6" x2="648.4" y2="588.6" stroke="#000" stroke-width="1.1" />
<g transform="translate(635.5,566.2) rotate(0)"><polygon points="-5.4,0 5.4,0 6.4,2.8 -6.4,2.8" fill="#111" stroke="#000" stroke-width="0.6"/><path d="M-6,1.6 Q-7.4,4 -8.8,5 M6,1.6 Q7.4,4 8.8,5" fill="none" stroke="#000" stroke-width="1.3"/><polygon points="-1.6,1.2 1.6,1.2 0.7,10.6 -0.7,10.6" fill="#fff" stroke="#000" stroke-width="0.7"/><circle cx="0" cy="12.9" r="2.2" fill="#fff" stroke="#000" stroke-width="1.2"/></g>
<path d="M341.6,689.8 L349.8,691.4 L349.8,718.9 L341.6,721 Q339.6,721 339.4,718.5 Q337.6,705.4 339.4,692 Q339.6,689.8 341.6,689.8 Z" fill="none" stroke="#000" stroke-width="0.9" />
<path d="M349.8,695.7 C358,695 362,693 368,693.1 C377,693.3 384.4,698 384.4,704.9 C384.4,711.6 377,716.8 368,717 C362,717 358,715.2 349.8,714.7" fill="none" stroke="#000" stroke-width="0.9" />
<ellipse cx="369.4" cy="704.9" rx="12.3" ry="9.2" fill="none" stroke="#000" stroke-width="0.9"/>
<rect x="361.8" y="702.5" width="4.6" height="5.2" rx="0" fill="none" stroke="#aaa" stroke-width="0.6"/>
<rect x="333" y="734.3" width="96.3" height="49.1" rx="0" fill="none" stroke="#111" stroke-width="0.8"/>
<path d="M341.6,737.2 H402 A23,21.05 0 0 1 402,779.3 H341.6 Q335.8,779.3 335.8,773.5 V743 Q335.8,737.2 341.6,737.2 Z" fill="none" stroke="#111" stroke-width="0.8" />
<rect x="334.4" y="755" width="4.3" height="7.6" rx="0" fill="#333" stroke="#000" stroke-width="0.6"/>
<line x1="338.7" y1="758.6" x2="342.2" y2="758.6" stroke="#000" stroke-width="1.6" />
<circle cx="345" cy="758.6" r="2.8" fill="none" stroke="#000" stroke-width="0.8"/>
<path d="M635.9,766.1 C633.6,752 633.2,741.5 637.8,735.8 C642,730.3 649,730.3 653.2,735.8 C657.8,741.5 657.4,752 655.5,766.1" fill="none" stroke="#000" stroke-width="0.9" />
<ellipse cx="645.5" cy="746.6" rx="9.1" ry="12.4" fill="none" stroke="#000" stroke-width="0.9"/>
<path d="M632.4,766.1 L659.4,766.1 L662,774.8 Q661.5,776 660,776.2 Q645.7,779 631.4,776.2 Q629.9,776 629.4,774.8 Z" fill="none" stroke="#000" stroke-width="0.9" />
<rect x="643.3" y="749.6" width="4.8" height="5.7" rx="0" fill="none" stroke="#aaa" stroke-width="0.6"/>
<polygon points="274.45,115 277.55,108.1 286.95,108.1 290.05,115 286.95,121.9 277.55,121.9" fill="none" stroke="#000" stroke-width="0.8" stroke-linejoin="miter" />
<text x="282.25" y="118.3" font-family="DejaVu Sans, Liberation Sans, sans-serif" font-size="9.1" text-anchor="middle" fill="#000" >GG</text>
<polygon points="552.95,144.25 556.05,137.35 565.45,137.35 568.55,144.25 565.45,151.15 556.05,151.15" fill="none" stroke="#000" stroke-width="0.8" stroke-linejoin="miter" />
<text x="560.75" y="147.55" font-family="DejaVu Sans, Liberation Sans, sans-serif" font-size="9.1" text-anchor="middle" fill="#000" >HH</text>
<polygon points="103.3,238.2 106.4,231.3 115.8,231.3 118.9,238.2 115.8,245.1 106.4,245.1" fill="none" stroke="#000" stroke-width="0.8" stroke-linejoin="miter" />
<text x="111.1" y="241.5" font-family="DejaVu Sans, Liberation Sans, sans-serif" font-size="9.1" text-anchor="middle" fill="#000" >RR</text>
<polygon points="103.3,315 106.4,308.1 115.8,308.1 118.9,315 115.8,321.9 106.4,321.9" fill="none" stroke="#000" stroke-width="0.8" stroke-linejoin="miter" />
<text x="111.1" y="318.3" font-family="DejaVu Sans, Liberation Sans, sans-serif" font-size="9.1" text-anchor="middle" fill="#000" >QQ</text>
<polygon points="103.3,438.4 106.4,431.5 115.8,431.5 118.9,438.4 115.8,445.3 106.4,445.3" fill="none" stroke="#000" stroke-width="0.8" stroke-linejoin="miter" />
<text x="111.1" y="441.7" font-family="DejaVu Sans, Liberation Sans, sans-serif" font-size="9.1" text-anchor="middle" fill="#000" >PP</text>
<polygon points="684.2,319.2 687.3,312.3 696.7,312.3 699.8,319.2 696.7,326.1 687.3,326.1" fill="none" stroke="#000" stroke-width="0.8" stroke-linejoin="miter" />
<text x="692" y="322.4" font-family="DejaVu Serif, Liberation Serif, serif" font-size="9.0" text-anchor="middle" fill="#000" >II</text>
<polygon points="684.2,513.3 687.3,506.4 696.7,506.4 699.8,513.3 696.7,520.2 687.3,520.2" fill="none" stroke="#000" stroke-width="0.8" stroke-linejoin="miter" />
<text x="692" y="516.6" font-family="DejaVu Sans, Liberation Sans, sans-serif" font-size="9.1" text-anchor="middle" fill="#000" >JJ</text>
<polygon points="684.2,633.4 687.3,626.5 696.7,626.5 699.8,633.4 696.7,640.3 687.3,640.3" fill="none" stroke="#000" stroke-width="0.8" stroke-linejoin="miter" />
<text x="692" y="636.7" font-family="DejaVu Sans, Liberation Sans, sans-serif" font-size="9.1" text-anchor="middle" fill="#000" >KK</text>
<polygon points="157.95,798.5 161.05,791.6 170.45,791.6 173.55,798.5 170.45,805.4 161.05,805.4" fill="none" stroke="#000" stroke-width="0.8" stroke-linejoin="miter" />
<text x="165.75" y="801.8" font-family="DejaVu Sans, Liberation Sans, sans-serif" font-size="9.1" text-anchor="middle" fill="#000" >OO</text>
<polygon points="274.2,798.5 277.3,791.6 286.7,791.6 289.8,798.5 286.7,805.4 277.3,805.4" fill="none" stroke="#000" stroke-width="0.8" stroke-linejoin="miter" />
<text x="282" y="801.8" font-family="DejaVu Sans, Liberation Sans, sans-serif" font-size="9.1" text-anchor="middle" fill="#000" >NN</text>
<polygon points="372.5,798.3 375.6,791.4 385,791.4 388.1,798.3 385,805.2 375.6,805.2" fill="none" stroke="#000" stroke-width="0.8" stroke-linejoin="miter" />
<text x="380.3" y="801.6" font-family="DejaVu Sans, Liberation Sans, sans-serif" font-size="9.1" text-anchor="middle" fill="#000" >MM</text>
<polygon points="573.95,798.5 577.05,791.6 586.45,791.6 589.55,798.5 586.45,805.4 577.05,805.4" fill="none" stroke="#000" stroke-width="0.8" stroke-linejoin="miter" />
<text x="581.75" y="801.8" font-family="DejaVu Sans, Liberation Sans, sans-serif" font-size="9.1" text-anchor="middle" fill="#000" >LL</text>
<circle cx="508" cy="183.6" r="8.1" fill="none" stroke="#000" stroke-width="1.0"/>
<text x="508" y="187" font-family="DejaVu Sans, Liberation Sans, sans-serif" font-size="9.3" text-anchor="middle" fill="#000" >25</text>
<circle cx="496.25" cy="291.75" r="8.1" fill="none" stroke="#000" stroke-width="1.0"/>
<text x="496.25" y="295.15" font-family="DejaVu Sans, Liberation Sans, sans-serif" font-size="9.3" text-anchor="middle" fill="#000" >26</text>
<circle cx="331.25" cy="316.25" r="8.1" fill="none" stroke="#000" stroke-width="1.0"/>
<text x="331.25" y="319.65" font-family="DejaVu Sans, Liberation Sans, sans-serif" font-size="9.3" text-anchor="middle" fill="#000" >27</text>
<circle cx="277.3" cy="478.5" r="8.1" fill="none" stroke="#000" stroke-width="1.0"/>
<text x="277.3" y="481.9" font-family="DejaVu Sans, Liberation Sans, sans-serif" font-size="9.3" text-anchor="middle" fill="#000" >28</text>
<circle cx="183.2" cy="518.6" r="8.1" fill="none" stroke="#000" stroke-width="1.0"/>
<text x="183.2" y="522" font-family="DejaVu Sans, Liberation Sans, sans-serif" font-size="9.3" text-anchor="middle" fill="#000" >29</text>
<circle cx="336.25" cy="561" r="8.1" fill="none" stroke="#000" stroke-width="1.0"/>
<text x="336.25" y="564.4" font-family="DejaVu Sans, Liberation Sans, sans-serif" font-size="9.3" text-anchor="middle" fill="#000" >30</text>
<circle cx="472.5" cy="580.5" r="8.1" fill="none" stroke="#000" stroke-width="1.0"/>
<text x="472.5" y="583.9" font-family="DejaVu Sans, Liberation Sans, sans-serif" font-size="9.3" text-anchor="middle" fill="#000" >31</text>
<circle cx="402" cy="619.5" r="8.1" fill="none" stroke="#000" stroke-width="1.0"/>
<text x="402" y="622.9" font-family="DejaVu Sans, Liberation Sans, sans-serif" font-size="9.3" text-anchor="middle" fill="#000" >32</text>
<circle cx="475.2" cy="682.7" r="8.1" fill="none" stroke="#000" stroke-width="1.0"/>
<text x="475.2" y="686.1" font-family="DejaVu Sans, Liberation Sans, sans-serif" font-size="9.3" text-anchor="middle" fill="#000" >33</text>
<circle cx="642.6" cy="688.6" r="8.1" fill="none" stroke="#000" stroke-width="1.0"/>
<text x="642.6" y="692" font-family="DejaVu Sans, Liberation Sans, sans-serif" font-size="9.3" text-anchor="middle" fill="#000" >34</text>
<circle cx="292" cy="299.25" r="8.3" fill="none" stroke="#000" stroke-width="1.0"/>
<text x="292" y="302.35" font-family="Liberation Sans, DejaVu Sans, sans-serif" font-size="8.7" text-anchor="middle" fill="#000" textLength="10.8" lengthAdjust="spacingAndGlyphs" >SD</text>
<circle cx="372" cy="289.75" r="8.3" fill="none" stroke="#000" stroke-width="1.0"/>
<text x="372" y="292.85" font-family="Liberation Sans, DejaVu Sans, sans-serif" font-size="8.7" text-anchor="middle" fill="#000" textLength="10.8" lengthAdjust="spacingAndGlyphs" >SD</text>
<circle cx="438" cy="318" r="8.3" fill="none" stroke="#000" stroke-width="1.0"/>
<text x="438" y="321.1" font-family="Liberation Sans, DejaVu Sans, sans-serif" font-size="8.7" text-anchor="middle" fill="#000" textLength="10.8" lengthAdjust="spacingAndGlyphs" >SD</text>
<circle cx="293.5" cy="543.8" r="8.3" fill="none" stroke="#000" stroke-width="1.0"/>
<text x="293.5" y="546.9" font-family="Liberation Sans, DejaVu Sans, sans-serif" font-size="8.7" text-anchor="middle" fill="#000" textLength="10.8" lengthAdjust="spacingAndGlyphs" >SD</text>
<circle cx="355" cy="529" r="8.3" fill="none" stroke="#000" stroke-width="1.0"/>
<text x="355" y="532.1" font-family="Liberation Sans, DejaVu Sans, sans-serif" font-size="8.7" text-anchor="middle" fill="#000" textLength="10.8" lengthAdjust="spacingAndGlyphs" >SD</text>
<rect x="363.7" y="300.95" width="16.8" height="16.6" rx="0" fill="none" stroke="#222" stroke-width="1.1"/>
<text x="372.1" y="312.25" font-family="Liberation Sans, DejaVu Sans, sans-serif" font-size="8.2" text-anchor="middle" fill="#000" textLength="12.6" lengthAdjust="spacingAndGlyphs" >CM</text>
<rect x="347.5" y="540.3" width="16.8" height="16.6" rx="0" fill="none" stroke="#222" stroke-width="1.1"/>
<text x="355.9" y="551.6" font-family="Liberation Sans, DejaVu Sans, sans-serif" font-size="8.2" text-anchor="middle" fill="#000" textLength="12.6" lengthAdjust="spacingAndGlyphs" >CM</text>
<text x="378" y="168.8" font-family="DejaVu Sans, Liberation Sans, sans-serif" font-size="12" text-anchor="middle" fill="#000" >DW</text>
<text x="279" y="140.5" font-family="DejaVu Sans, Liberation Sans, sans-serif" font-size="9.6" text-anchor="middle" fill="#000" >3'x5'</text>
<text x="566.75" y="170" font-family="DejaVu Sans, Liberation Sans, sans-serif" font-size="9.6" text-anchor="middle" fill="#000" >3'x5'</text>
<text x="152.75" y="253.5" font-family="DejaVu Sans, Liberation Sans, sans-serif" font-size="11.5" text-anchor="middle" fill="#000" >3'x5'</text>
<text x="152.75" y="307.6" font-family="DejaVu Sans, Liberation Sans, sans-serif" font-size="11.5" text-anchor="middle" fill="#000" >3'x5'</text>
<text x="152.75" y="454.3" font-family="DejaVu Sans, Liberation Sans, sans-serif" font-size="11.5" text-anchor="middle" fill="#000" >3'x5'</text>
<text x="660.7" y="304" font-family="DejaVu Sans, Liberation Sans, sans-serif" font-size="11.5" text-anchor="middle" fill="#000" >3'x5'</text>
<text x="660.7" y="534.4" font-family="DejaVu Sans, Liberation Sans, sans-serif" font-size="11.5" text-anchor="middle" fill="#000" >3'x5'</text>
<text x="661.2" y="641.4" font-family="DejaVu Sans, Liberation Sans, sans-serif" font-size="11.5" text-anchor="middle" fill="#000" >3'x5'</text>
<text x="167.1" y="777.75" font-family="DejaVu Sans, Liberation Sans, sans-serif" font-size="11.5" text-anchor="middle" fill="#000" >3'x5'</text>
<text x="284" y="777.75" font-family="DejaVu Sans, Liberation Sans, sans-serif" font-size="11.5" text-anchor="middle" fill="#000" >3'x5'</text>
<text x="386.6" y="777.5" font-family="DejaVu Sans, Liberation Sans, sans-serif" font-size="11.5" text-anchor="middle" fill="#000" >4'x2'</text>
<text x="587.4" y="777.5" font-family="DejaVu Sans, Liberation Sans, sans-serif" font-size="11.5" text-anchor="middle" fill="#000" >2'x3'</text>
<text x="199.7" y="303.5" font-family="DejaVu Sans, Liberation Sans, sans-serif" font-size="9.4" text-anchor="middle" fill="#000" textLength="38.2" lengthAdjust="spacingAndGlyphs" >EGRESS</text>
<text x="199.9" y="314.6" font-family="DejaVu Sans, Liberation Sans, sans-serif" font-size="9.4" text-anchor="middle" fill="#000" textLength="51" lengthAdjust="spacingAndGlyphs" >CASEMENT</text>
<text x="651.3" y="492.5" font-family="DejaVu Sans, Liberation Sans, sans-serif" font-size="9.4" text-anchor="middle" fill="#000" textLength="38.2" lengthAdjust="spacingAndGlyphs" >EGRESS</text>
<text x="651.5" y="503.6" font-family="DejaVu Sans, Liberation Sans, sans-serif" font-size="9.4" text-anchor="middle" fill="#000" textLength="51" lengthAdjust="spacingAndGlyphs" >CASEMENT</text>
<text x="191.6" y="749.75" font-family="DejaVu Sans, Liberation Sans, sans-serif" font-size="9.4" text-anchor="middle" fill="#000" textLength="38.2" lengthAdjust="spacingAndGlyphs" >EGRESS</text>
<text x="191.8" y="760.85" font-family="DejaVu Sans, Liberation Sans, sans-serif" font-size="9.4" text-anchor="middle" fill="#000" textLength="51" lengthAdjust="spacingAndGlyphs" >CASEMENT</text>
<text x="181.4" y="504.7" font-family="DejaVu Sans, Liberation Sans, sans-serif" font-size="9" text-anchor="middle" fill="#000" textLength="37" lengthAdjust="spacingAndGlyphs" >CLOSET</text>
<text x="284.4" y="504.7" font-family="DejaVu Sans, Liberation Sans, sans-serif" font-size="9" text-anchor="middle" fill="#000" textLength="37" lengthAdjust="spacingAndGlyphs" >CLOSET</text>
<text x="495.3" y="733.8" font-family="DejaVu Sans, Liberation Sans, sans-serif" font-size="9" text-anchor="middle" fill="#000" textLength="38" lengthAdjust="spacingAndGlyphs" >CLOSET</text>
<text transform="translate(670.4,218.5) rotate(-90)" font-family="Liberation Sans, DejaVu Sans, sans-serif" font-size="9.6" text-anchor="middle" fill="#000" textLength="33" lengthAdjust="spacingAndGlyphs" stroke="#000" stroke-width="0.3">CHASE</text>
<text x="222.5" y="373" font-family="Liberation Sans, DejaVu Sans, sans-serif" font-size="11.8" text-anchor="start" fill="#000" textLength="56.2" lengthAdjust="spacingAndGlyphs" stroke="#000" stroke-width="0.4">BEDROOM</text>
<line x1="221.5" y1="375.3" x2="279.7" y2="375.3" stroke="#000" stroke-width="1.0" />
<text x="222.5" y="387.5" font-family="Liberation Sans, DejaVu Sans, sans-serif" font-size="11.8" text-anchor="start" fill="#000" textLength="55.5" lengthAdjust="spacingAndGlyphs" stroke="#000" stroke-width="0.4">12'-0&quot; CLG</text>
<text x="185" y="665.5" font-family="Liberation Sans, DejaVu Sans, sans-serif" font-size="11.8" text-anchor="start" fill="#000" textLength="56.2" lengthAdjust="spacingAndGlyphs" stroke="#000" stroke-width="0.4">BEDROOM</text>
<line x1="184" y1="667.8" x2="242.2" y2="667.8" stroke="#000" stroke-width="1.0" />
<text x="185" y="680.5" font-family="Liberation Sans, DejaVu Sans, sans-serif" font-size="11.8" text-anchor="start" fill="#000" textLength="55.6" lengthAdjust="spacingAndGlyphs" stroke="#000" stroke-width="0.4">12'-0&quot; CLG</text>
<text x="531.2" y="212" font-family="Liberation Sans, DejaVu Sans, sans-serif" font-size="11.4" text-anchor="start" fill="#000" textLength="53.8" lengthAdjust="spacingAndGlyphs" stroke="#000" stroke-width="0.4">LAUNDRY</text>
<line x1="530.2" y1="214.3" x2="586" y2="214.3" stroke="#000" stroke-width="1.0" />
<text x="373.2" y="681" font-family="Liberation Sans, DejaVu Sans, sans-serif" font-size="11.8" text-anchor="start" fill="#000" textLength="46.8" lengthAdjust="spacingAndGlyphs" stroke="#000" stroke-width="0.4">BATHRM</text>
<line x1="372.2" y1="683.3" x2="421" y2="683.3" stroke="#000" stroke-width="1.0" />
<text x="368.7" y="695.6" font-family="Liberation Sans, DejaVu Sans, sans-serif" font-size="11.8" text-anchor="start" fill="#000" textLength="55.8" lengthAdjust="spacingAndGlyphs" stroke="#000" stroke-width="0.4">12'-0&quot; CLG</text>
<text x="533" y="616.5" font-family="Liberation Sans, DejaVu Sans, sans-serif" font-size="11.8" text-anchor="start" fill="#000" textLength="47" lengthAdjust="spacingAndGlyphs" stroke="#000" stroke-width="0.4">BATHRM</text>
<line x1="532" y1="618.8" x2="581" y2="618.8" stroke="#000" stroke-width="1.0" />
<text x="529" y="630.6" font-family="Liberation Sans, DejaVu Sans, sans-serif" font-size="11.8" text-anchor="start" fill="#000" textLength="55" lengthAdjust="spacingAndGlyphs" stroke="#000" stroke-width="0.4">12'-0&quot; CLG</text>
<text x="567.4" y="404.7" font-family="Liberation Sans, DejaVu Sans, sans-serif" font-size="9.4" text-anchor="start" fill="#000" font-weight="bold" textLength="37.2" lengthAdjust="spacingAndGlyphs" >MASTER</text>
<line x1="566.4" y1="407" x2="605.6" y2="407" stroke="#000" stroke-width="1.0" />
<text x="569.6" y="415.9" font-family="Liberation Sans, DejaVu Sans, sans-serif" font-size="9.4" text-anchor="start" fill="#000" font-weight="bold" textLength="32.4" lengthAdjust="spacingAndGlyphs" >BEDRM</text>
<line x1="568.6" y1="418.2" x2="603" y2="418.2" stroke="#000" stroke-width="1.0" />
<text x="559.2" y="427.3" font-family="Liberation Sans, DejaVu Sans, sans-serif" font-size="7.0" text-anchor="start" fill="#000" textLength="53.5" lengthAdjust="spacingAndGlyphs" >VAULTED CLG</text>
<line x1="261.25" y1="886.3" x2="528" y2="886.3" stroke="#000" stroke-width="3.2" />
<text x="261.5" y="904.9" font-family="DejaVu Sans ExtraLight, DejaVu Sans Light, DejaVu Sans, Liberation Sans, sans-serif" font-size="15.8" text-anchor="start" fill="#000" textLength="16.8" lengthAdjust="spacingAndGlyphs" stroke="#000" stroke-width="0.15">02</text>
<text x="290.5" y="904.9" font-family="DejaVu Sans ExtraLight, DejaVu Sans Light, DejaVu Sans, Liberation Sans, sans-serif" font-size="15.8" text-anchor="start" fill="#000" textLength="57" lengthAdjust="spacingAndGlyphs" stroke="#000" stroke-width="0.15">SECOND</text>
<text x="356.2" y="904.9" font-family="DejaVu Sans ExtraLight, DejaVu Sans Light, DejaVu Sans, Liberation Sans, sans-serif" font-size="15.8" text-anchor="start" fill="#000" textLength="45" lengthAdjust="spacingAndGlyphs" stroke="#000" stroke-width="0.15">FLOOR</text>
<text x="290.5" y="918.6" font-family="DejaVu Sans ExtraLight, DejaVu Sans Light, DejaVu Sans, Liberation Sans, sans-serif" font-size="10.4" text-anchor="start" fill="#000" textLength="22.3" lengthAdjust="spacingAndGlyphs" stroke="#000" stroke-width="0.15">1/4&quot;</text>
<text x="323.6" y="918.6" font-family="DejaVu Sans ExtraLight, DejaVu Sans Light, DejaVu Sans, Liberation Sans, sans-serif" font-size="10.4" text-anchor="start" fill="#000" textLength="5.4" lengthAdjust="spacingAndGlyphs" stroke="#000" stroke-width="0.15">=</text>
<text x="336" y="918.6" font-family="DejaVu Sans ExtraLight, DejaVu Sans Light, DejaVu Sans, Liberation Sans, sans-serif" font-size="10.4" text-anchor="start" fill="#000" textLength="30.8" lengthAdjust="spacingAndGlyphs" stroke="#000" stroke-width="0.15">1'-0&quot;</text>
<text x="374.5" y="918.6" font-family="DejaVu Sans ExtraLight, DejaVu Sans Light, DejaVu Sans, Liberation Sans, sans-serif" font-size="10.4" text-anchor="start" fill="#000" textLength="7.7" lengthAdjust="spacingAndGlyphs" stroke="#000" stroke-width="0.15">@</text>
<text x="389.2" y="918.6" font-family="DejaVu Sans ExtraLight, DejaVu Sans Light, DejaVu Sans, Liberation Sans, sans-serif" font-size="10.4" text-anchor="start" fill="#000" textLength="32.3" lengthAdjust="spacingAndGlyphs" stroke="#000" stroke-width="0.15">22x34</text>
<text x="429.2" y="918.6" font-family="DejaVu Sans ExtraLight, DejaVu Sans Light, DejaVu Sans, Liberation Sans, sans-serif" font-size="10.4" text-anchor="start" fill="#000" textLength="24.3" lengthAdjust="spacingAndGlyphs" stroke="#000" stroke-width="0.15">1/8&quot;</text>
<text x="462.4" y="918.6" font-family="DejaVu Sans ExtraLight, DejaVu Sans Light, DejaVu Sans, Liberation Sans, sans-serif" font-size="10.4" text-anchor="start" fill="#000" textLength="6.6" lengthAdjust="spacingAndGlyphs" stroke="#000" stroke-width="0.15">=</text>
<text x="475.5" y="918.6" font-family="DejaVu Sans ExtraLight, DejaVu Sans Light, DejaVu Sans, Liberation Sans, sans-serif" font-size="10.4" text-anchor="start" fill="#000" textLength="30.1" lengthAdjust="spacingAndGlyphs" stroke="#000" stroke-width="0.15">1'-0&quot;</text>
<text x="514" y="918.6" font-family="DejaVu Sans ExtraLight, DejaVu Sans Light, DejaVu Sans, Liberation Sans, sans-serif" font-size="10.4" text-anchor="start" fill="#000" textLength="7.4" lengthAdjust="spacingAndGlyphs" stroke="#000" stroke-width="0.15">@</text>
<text x="528" y="918.6" font-family="DejaVu Sans ExtraLight, DejaVu Sans Light, DejaVu Sans, Liberation Sans, sans-serif" font-size="10.4" text-anchor="start" fill="#000" textLength="29.6" lengthAdjust="spacingAndGlyphs" stroke="#000" stroke-width="0.15">11x17</text>
</svg></body></html>
